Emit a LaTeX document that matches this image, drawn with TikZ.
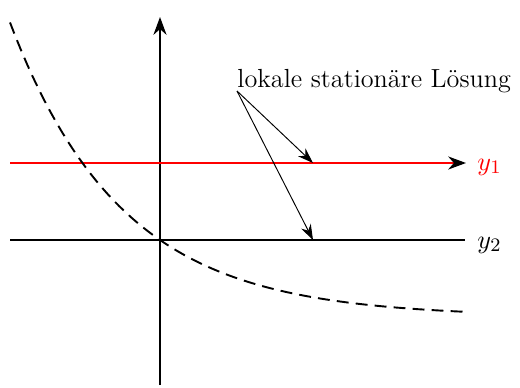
\documentclass[tikz,border=0pt]{standalone}
\usetikzlibrary{arrows.meta}
\begin{document}
\begin{tikzpicture}[x=0.42pt,y=-0.42pt,
  every node/.style={font=\fontsize{11}{13}\selectfont},
  axis/.style={line width=0.8pt,-{Stealth[length=7.5pt,width=5.5pt]}},
  pointer/.style={line width=0.4pt,-{Stealth[length=6.5pt,width=4.5pt]}},
  lab/.style={inner sep=0pt,anchor=west}]
\useasboundingbox (0,0) rectangle (520,387);
% axis
\coordinate (vb) at (160,385);
\coordinate (vt) at (160,17);
\draw[axis] (vb) -- (vt);
% lines
\coordinate (r0) at (10,163);
\coordinate (r1) at (466,163);
\coordinate (b0) at (10,240);
\coordinate (b1) at (465,240);
\draw[line width=0.8pt,red,-{Stealth[black,length=7.5pt,width=5.5pt]}] (r0) -- (r1);
\draw[line width=0.8pt] (b0) -- (b1);
\node[lab,text=red] (y1) at (477,167) {$y_1$};
\node[lab] (y2) at (477,245) {$y_2$};
% dashed curve
\draw[line width=0.8pt,dash pattern=on 5pt off 3pt,domain=10:465,samples=80]
  plot (\x,{316.8-76.8*exp(-0.00896*(\x-160))});
% annotation
\node[inner sep=0pt,anchor=base west] (txt) at (237,88) {lokale stationäre Lösung};
\coordinate (s) at (237,91);
\coordinate (e1) at (313,163);
\coordinate (e2) at (313,240);
\draw[pointer] (s) -- (e1);
\draw[pointer] (s) -- (e2);
\end{tikzpicture}
\end{document}
